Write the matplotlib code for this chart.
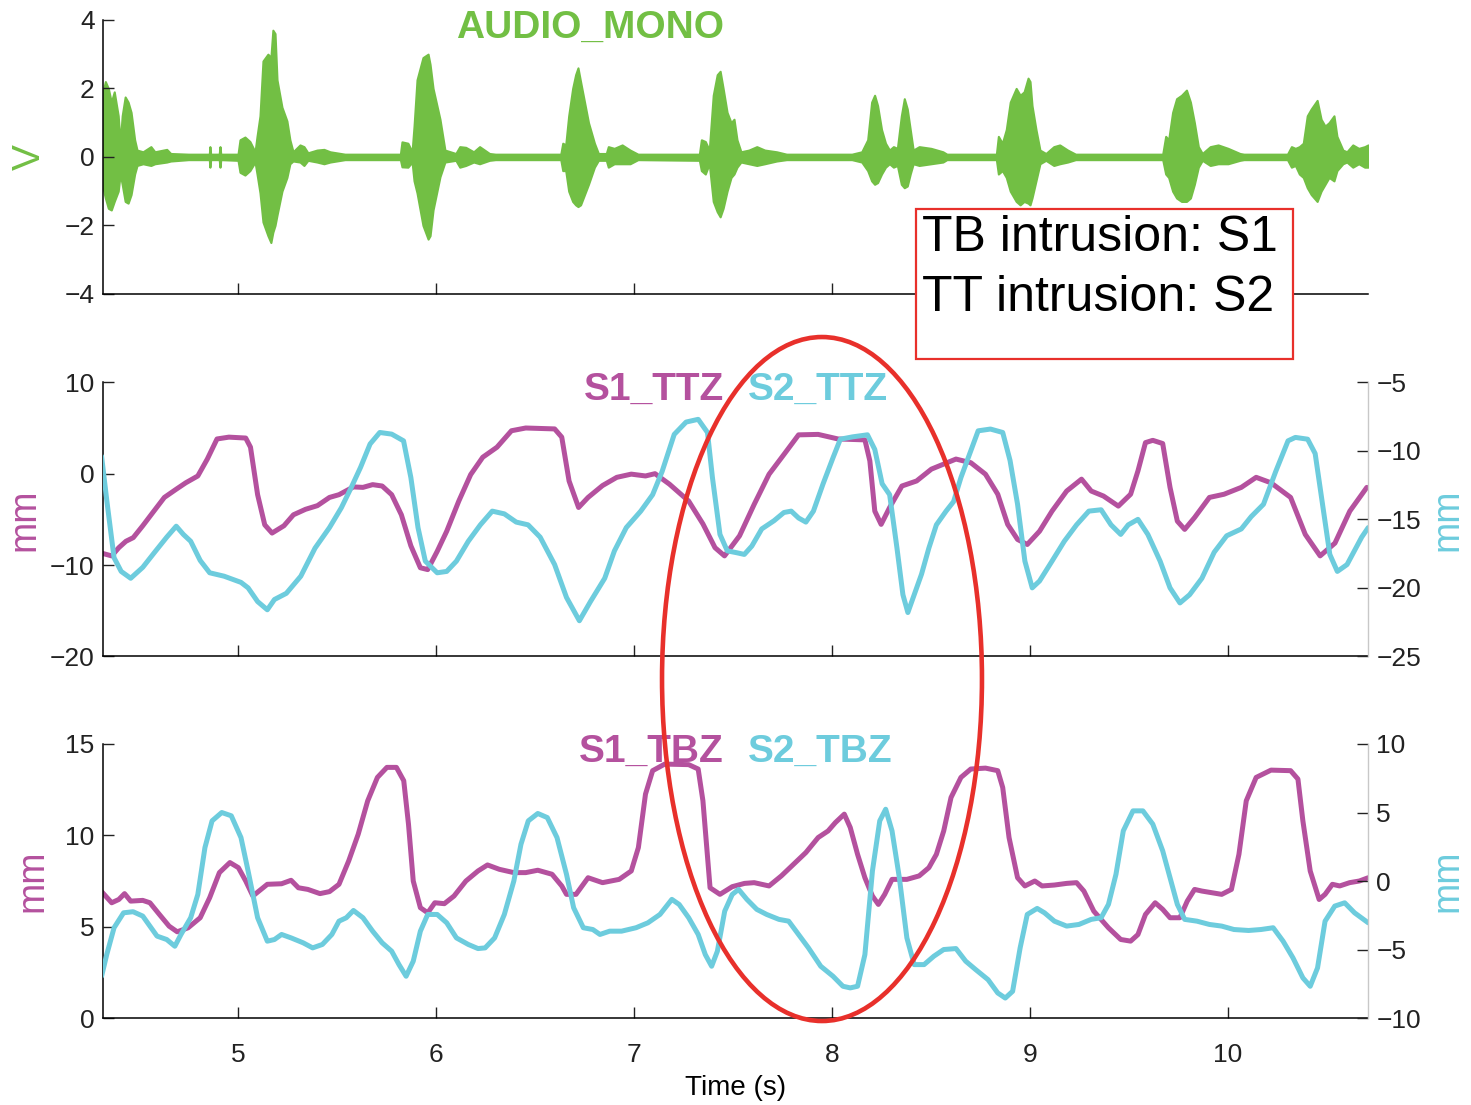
import matplotlib
matplotlib.use("Agg")
import matplotlib.pyplot as plt
from matplotlib.patches import Ellipse, Rectangle

plt.rcParams['font.family'] = ['Liberation Sans', 'DejaVu Sans']

GREEN = '#72BF44'
MAGENTA = '#B4519E'
CYAN = '#6DCCDD'
RED = '#E8302B'

# audio envelope (V)
audio_t = [4.318, 4.330, 4.345, 4.360, 4.375, 4.395, 4.405, 4.415, 4.430, 4.445, 4.460, 4.478, 4.490,
           4.52, 4.56, 4.58, 4.64, 4.66, 4.75, 4.855, 4.858, 4.862, 4.905, 4.909, 4.913,
           5.000, 5.010, 5.035, 5.060, 5.086, 5.096, 5.111, 5.126, 5.151, 5.166, 5.176, 5.187, 5.197,
           5.222, 5.247, 5.262, 5.278, 5.313, 5.333, 5.353, 5.399, 5.434, 5.465, 5.540,
           5.820, 5.828, 5.858, 5.879, 5.889, 5.904, 5.934, 5.960, 5.970, 5.985, 6.020, 6.045,
           6.10, 6.12, 6.15, 6.19, 6.22, 6.27, 6.30, 6.63, 6.64, 6.655,
           6.67, 6.69, 6.705, 6.717, 6.73, 6.75, 6.77, 6.80, 6.82, 6.86, 6.87, 6.90, 6.94, 6.98, 7.02,
           7.33, 7.34, 7.36, 7.38, 7.40, 7.42, 7.435, 7.45, 7.47, 7.49, 7.505, 7.52, 7.54, 7.58, 7.62,
           7.66, 7.72, 7.77, 8.10, 8.15, 8.18, 8.20, 8.215, 8.23, 8.25, 8.27, 8.29, 8.31, 8.33, 8.35,
           8.365, 8.38, 8.395, 8.41, 8.44, 8.50, 8.56, 8.58, 8.83, 8.84, 8.86, 8.88, 8.90, 8.93, 8.95,
           8.97, 8.99, 9.00, 9.01, 9.03, 9.05, 9.08, 9.12, 9.15, 9.19, 9.23, 9.67, 9.685, 9.70, 9.72,
           9.74, 9.765, 9.79, 9.81, 9.83, 9.85, 9.87, 9.91, 9.95, 10.00, 10.06, 10.08, 10.30, 10.32,
           10.34, 10.36, 10.38, 10.40, 10.42, 10.45, 10.47, 10.49, 10.51, 10.535, 10.55, 10.58, 10.60,
           10.63, 10.66, 10.69, 10.707]
audio_hi = [1.9, 2.2, 2.0, 1.6, 1.9, 1.2, 0.4, 1.2, 1.75, 1.6, 1.3, 0.5, 0.2,
            0.15, 0.3, 0.15, 0.22, 0.1, 0.08, 0.08, 0.3, 0.08, 0.08, 0.3, 0.08,
            0.08, 0.5, 0.58, 0.45, 0.15, 0.6, 1.2, 2.8, 3.0, 2.9, 3.7, 3.6, 2.25,
            1.45, 1.05, 0.5, 0.15, 0.35, 0.3, 0.12, 0.2, 0.22, 0.15, 0.08,
            0.08, 0.44, 0.4, 0.15, 0.9, 2.25, 2.9, 3.0, 2.7, 2.0, 1.1, 0.2,
            0.1, 0.3, 0.28, 0.15, 0.3, 0.1, 0.08, 0.08, 0.4, 0.35,
            1.2, 2.0, 2.4, 2.6, 2.2, 1.6, 1.0, 0.4, 0.1, 0.1, 0.3, 0.25, 0.35, 0.2, 0.08,
            0.08, 0.5, 0.45, 0.2, 1.8, 2.4, 2.5, 2.0, 1.3, 1.0, 1.1, 0.5, 0.15, 0.2, 0.3,
            0.2, 0.15, 0.08, 0.08, 0.15, 0.5, 1.6, 1.8, 1.5, 0.8, 0.4, 0.2, 0.3, 0.25, 1.2,
            1.7, 1.4, 0.8, 0.2, 0.3, 0.25, 0.15, 0.08, 0.08, 0.6, 0.4, 0.8, 1.6, 2.0, 1.8,
            1.9, 2.3, 2.2, 1.5, 0.8, 0.2, 0.1, 0.3, 0.35, 0.2, 0.08, 0.08, 0.6, 0.5, 1.3,
            1.7, 1.8, 1.95, 1.6, 1.0, 0.3, 0.1, 0.3, 0.35, 0.25, 0.1, 0.08, 0.08, 0.3,
            0.25, 0.3, 0.4, 1.2, 1.4, 1.65, 1.1, 0.9, 1.0, 1.2, 0.6, 0.2, 0.15,
            0.35, 0.25, 0.3, 0.35]
audio_lo = [-0.9, -1.2, -1.5, -1.55, -1.3, -1.0, -0.5, -0.8, -1.3, -1.35, -1.1, -0.5, -0.25,
            -0.2, -0.25, -0.2, -0.15, -0.12, -0.08, -0.08, -0.3, -0.08, -0.08, -0.3, -0.08,
            -0.1, -0.45, -0.53, -0.4, -0.15, -0.5, -1.05, -1.9, -2.3, -2.5, -2.2, -2.0, -1.7,
            -1.0, -0.6, -0.2, -0.12, -0.15, -0.25, -0.1, -0.15, -0.2, -0.15, -0.08,
            -0.08, -0.29, -0.3, -0.15, -0.7, -1.05, -2.0, -2.4, -2.3, -1.55, -0.58, -0.15,
            -0.1, -0.3, -0.25, -0.15, -0.2, -0.1, -0.08, -0.08, -0.4, -0.4,
            -1.0, -1.3, -1.4, -1.45, -1.4, -1.1, -0.8, -0.3, -0.1, -0.1, -0.3, -0.2, -0.2, -0.2, -0.08,
            -0.1, -0.4, -0.5, -0.2, -1.3, -1.6, -1.75, -1.5, -1.0, -0.6, -0.5, -0.3, -0.15, -0.2, -0.25,
            -0.2, -0.12, -0.08, -0.08, -0.15, -0.4, -0.7, -0.8, -0.75, -0.5, -0.3, -0.2, -0.3, -0.25, -0.8,
            -0.9, -0.85, -0.5, -0.2, -0.25, -0.2, -0.15, -0.08, -0.08, -0.5, -0.4, -0.6, -1.0, -1.3, -1.4,
            -1.3, -1.35, -1.4, -1.2, -0.7, -0.2, -0.1, -0.25, -0.2, -0.15, -0.08, -0.08, -0.5, -0.6, -1.0,
            -1.2, -1.3, -1.3, -1.2, -0.8, -0.3, -0.1, -0.25, -0.2, -0.2, -0.1, -0.08, -0.08, -0.3,
            -0.25, -0.5, -0.6, -0.9, -1.1, -1.3, -1.0, -0.8, -0.6, -0.7, -0.4, -0.2, -0.15,
            -0.3, -0.2, -0.3, -0.3]

# tongue tip vertical position (mm)
s1_ttz_t = [4.311, 4.362, 4.398, 4.434, 4.471, 4.519, 4.568, 4.628, 4.688, 4.736, 4.797, 4.845, 4.894,
            4.954, 5.039, 5.063, 5.099, 5.135, 5.172, 5.232, 5.280, 5.341, 5.401, 5.462, 5.510, 5.583,
            5.631, 5.680, 5.728, 5.776, 5.825, 5.873, 5.921, 5.958, 6.006, 6.054, 6.115, 6.175, 6.236,
            6.308, 6.381, 6.453, 6.599, 6.635, 6.672, 6.720, 6.768, 6.841, 6.913, 6.986, 7.058, 7.106,
            7.179, 7.276, 7.348, 7.409, 7.457, 7.533, 7.607, 7.682, 7.757, 7.831, 7.930, 8.030, 8.166,
            8.191, 8.216, 8.248, 8.291, 8.353, 8.427, 8.502, 8.564, 8.626, 8.701, 8.775, 8.837, 8.887,
            8.937, 8.986, 9.048, 9.111, 9.185, 9.260, 9.309, 9.371, 9.446, 9.508, 9.545, 9.583, 9.620,
            9.670, 9.707, 9.744, 9.781, 9.831, 9.906, 9.980, 10.067, 10.142, 10.217, 10.316, 10.390,
            10.465, 10.540, 10.615, 10.701]
s1_ttz = [-8.7, -9.0, -8.1, -7.4, -7.0, -5.7, -4.3, -2.6, -1.7, -1.0, -0.25, 1.6, 3.8,
          4.0, 3.9, 2.9, -2.3, -5.6, -6.5, -5.7, -4.5, -3.9, -3.5, -2.6, -2.3, -1.45,
          -1.5, -1.2, -1.35, -2.3, -4.5, -7.9, -10.3, -10.5, -8.5, -6.3, -3.0, -0.1, 1.8,
          2.9, 4.7, 5.0, 4.9, 4.0, -0.8, -3.7, -2.6, -1.3, -0.4, -0.05, -0.25, 0.0,
          -1.15, -3.0, -5.5, -8.1, -9.0, -6.8, -3.35, -0.06, 2.1, 4.25, 4.3, 3.8, 3.7,
          1.4, -4.1, -5.55, -3.7, -1.35, -0.8, 0.5, 1.05, 1.6, 1.2, -0.06, -2.25, -5.55,
          -7.2, -7.75, -6.3, -4.1, -1.9, -0.6, -1.9, -2.45, -3.55, -2.25, 0.3, 3.4, 3.65,
          3.3, -1.5, -5.2, -6.1, -4.8, -2.6, -2.25, -1.5, -0.4, -1.0, -2.6, -6.65,
          -9.0, -7.6, -4.1, -1.5]
s2_ttz_t = [4.311, 4.338, 4.374, 4.410, 4.458, 4.519, 4.579, 4.640, 4.688, 4.724, 4.761, 4.809, 4.857,
            4.930, 4.978, 5.015, 5.051, 5.099, 5.148, 5.184, 5.244, 5.317, 5.389, 5.462, 5.522, 5.571,
            5.619, 5.667, 5.716, 5.776, 5.836, 5.873, 5.909, 5.946, 6.006, 6.054, 6.103, 6.163, 6.224,
            6.284, 6.345, 6.405, 6.465, 6.526, 6.599, 6.659, 6.724, 6.780, 6.852, 6.901, 6.961, 7.034,
            7.094, 7.142, 7.203, 7.263, 7.324, 7.371, 7.396, 7.434, 7.471, 7.520, 7.557, 7.595, 7.645,
            7.707, 7.757, 7.794, 7.831, 7.868, 7.906, 7.955, 8.005, 8.042, 8.104, 8.179, 8.216, 8.253,
            8.291, 8.328, 8.358, 8.383, 8.415, 8.452, 8.489, 8.527, 8.576, 8.614, 8.651, 8.701, 8.738,
            8.800, 8.862, 8.899, 8.937, 8.974, 9.011, 9.048, 9.111, 9.173, 9.235, 9.297, 9.359, 9.409,
            9.458, 9.496, 9.545, 9.595, 9.657, 9.707, 9.757, 9.806, 9.868, 9.930, 9.993, 10.067,
            10.117, 10.179, 10.241, 10.303, 10.340, 10.402, 10.440, 10.477, 10.514, 10.552, 10.601,
            10.638, 10.675, 10.708]
s2_ttz = [-10.4, -13.7, -17.8, -18.8, -19.3, -18.5, -17.4, -16.3, -15.5, -16.1, -16.6, -18.0, -18.9,
          -19.15, -19.4, -19.6, -20.0, -21.0, -21.6, -20.85, -20.4, -19.15, -17.1, -15.6, -14.15, -12.7,
          -11.2, -9.5, -8.66, -8.78, -9.27, -11.95, -15.6, -18.05, -18.9, -18.8, -18.05, -16.6, -15.4,
          -14.4, -14.6, -15.2, -15.4, -16.3, -18.3, -20.7, -22.4, -21.0, -19.3, -17.3, -15.6, -14.4,
          -13.2, -11.5, -8.8, -7.9, -7.7, -8.66, -11.95, -16.1, -17.3, -17.44, -17.56, -16.95, -15.7,
          -15.1, -14.5, -14.4, -14.9, -15.2, -14.4, -12.4, -10.5, -9.15, -8.98, -8.83, -9.9, -12.4,
          -13.2, -17.1, -20.5, -21.8, -20.5, -19.0, -17.1, -15.4, -14.4, -13.7, -11.95, -10.0, -8.54,
          -8.41, -8.66, -10.7, -13.9, -18.05, -20.0, -19.5, -18.05, -16.6, -15.4, -14.4, -14.3, -15.4,
          -16.1, -15.4, -15.0, -16.1, -18.05, -20.0, -21.1, -20.5, -19.3, -17.4, -16.2, -15.7,
          -14.8, -13.9, -11.5, -9.27, -9.02, -9.15, -10.2, -13.9, -17.56, -18.8, -18.3,
          -17.3, -16.3, -15.6]

# tongue body vertical position (mm)
s1_tbz_t = [4.311, 4.362, 4.398, 4.427, 4.458, 4.519, 4.555, 4.603, 4.652, 4.693, 4.748, 4.809, 4.857,
            4.906, 4.959, 5.002, 5.039, 5.075, 5.148, 5.220, 5.268, 5.305, 5.353, 5.414, 5.462, 5.510,
            5.559, 5.607, 5.655, 5.704, 5.752, 5.800, 5.837, 5.861, 5.885, 5.921, 5.958, 5.994, 6.042,
            6.091, 6.151, 6.212, 6.260, 6.320, 6.393, 6.453, 6.514, 6.586, 6.635, 6.659, 6.707, 6.768,
            6.841, 6.925, 6.986, 7.022, 7.058, 7.094, 7.155, 7.276, 7.324, 7.348, 7.384, 7.434, 7.496,
            7.558, 7.607, 7.682, 7.744, 7.806, 7.868, 7.930, 7.980, 8.017, 8.062, 8.092, 8.129, 8.166,
            8.204, 8.234, 8.266, 8.303, 8.378, 8.440, 8.489, 8.527, 8.564, 8.601, 8.651, 8.701, 8.775,
            8.837, 8.862, 8.894, 8.937, 8.974, 9.024, 9.061, 9.123, 9.185, 9.235, 9.272, 9.322, 9.396,
            9.458, 9.508, 9.545, 9.583, 9.632, 9.670, 9.707, 9.757, 9.794, 9.831, 9.868, 9.918, 9.968,
            10.017, 10.055, 10.092, 10.142, 10.217, 10.316, 10.353, 10.378, 10.415, 10.460, 10.490,
            10.527, 10.564, 10.614, 10.663, 10.708]
s1_tbz = [6.92, 6.31, 6.49, 6.81, 6.40, 6.44, 6.31, 5.67, 5.03, 4.72, 4.94, 5.49, 6.59,
          7.96, 8.51, 8.23, 7.50, 6.68, 7.32, 7.35, 7.54, 7.13, 7.04, 6.81, 6.92, 7.32,
          8.60, 10.06, 11.89, 13.17, 13.72, 13.72, 12.99, 10.61, 7.50, 6.04, 5.76, 6.31, 6.26,
          6.68, 7.50, 8.05, 8.38, 8.14, 7.96, 7.96, 8.09, 7.87, 7.23, 6.77, 6.77, 7.68,
          7.41, 7.59, 8.05, 9.33, 12.26, 13.54, 13.9, 13.87, 13.63, 11.89, 7.13, 6.77, 7.19,
          7.37, 7.41, 7.23, 7.78, 8.42, 9.06, 9.88, 10.24, 10.70, 11.16, 10.43, 8.96, 7.68,
          6.68, 6.22, 6.77, 7.59, 7.59, 7.78, 8.23, 8.96, 10.24, 12.07, 13.17, 13.63, 13.68,
          13.54, 12.62, 9.88, 7.68, 7.23, 7.50, 7.23, 7.28, 7.37, 7.41, 6.95, 5.85, 4.94,
          4.30, 4.21, 4.57, 5.67, 6.31, 5.95, 5.49, 5.49, 6.40, 7.04, 6.95, 6.86, 6.77,
          7.04, 8.96, 11.89, 13.17, 13.57, 13.54, 13.08, 10.79, 8.05, 6.49, 6.77,
          7.32, 7.23, 7.41, 7.50, 7.68]
s2_tbz_t = [4.311, 4.337, 4.374, 4.422, 4.470, 4.519, 4.555, 4.591, 4.640, 4.681, 4.712, 4.761, 4.797,
            4.833, 4.869, 4.918, 4.966, 5.015, 5.051, 5.099, 5.148, 5.184, 5.220, 5.268, 5.329, 5.377,
            5.426, 5.474, 5.510, 5.547, 5.583, 5.631, 5.680, 5.728, 5.776, 5.813, 5.849, 5.885, 5.921,
            5.958, 6.006, 6.054, 6.103, 6.163, 6.212, 6.248, 6.296, 6.345, 6.393, 6.429, 6.466, 6.514,
            6.562, 6.611, 6.659, 6.695, 6.744, 6.792, 6.828, 6.877, 6.937, 7.010, 7.070, 7.131, 7.191,
            7.228, 7.276, 7.324, 7.360, 7.392, 7.421, 7.458, 7.496, 7.528, 7.570, 7.620, 7.670, 7.732,
            7.781, 7.831, 7.881, 7.943, 8.005, 8.055, 8.092, 8.129, 8.166, 8.204, 8.241, 8.271, 8.303,
            8.340, 8.378, 8.415, 8.465, 8.514, 8.564, 8.626, 8.675, 8.725, 8.788, 8.837, 8.875, 8.912,
            8.950, 8.986, 9.036, 9.073, 9.123, 9.185, 9.247, 9.309, 9.359, 9.396, 9.434, 9.471, 9.520,
            9.570, 9.620, 9.670, 9.707, 9.744, 9.781, 9.843, 9.906, 9.968, 10.030, 10.104, 10.166,
            10.228, 10.278, 10.328, 10.378, 10.415, 10.452, 10.490, 10.539, 10.589, 10.639, 10.708]
s2_tbz = [-6.95, -5.37, -3.41, -2.32, -2.24, -2.56, -3.29, -4.02, -4.27, -4.76, -3.90, -2.68, -0.98,
          2.44, 4.39, 5.0, 4.76, 3.17, 0.73, -2.68, -4.39, -4.27, -3.90, -4.15, -4.51, -4.88,
          -4.63, -3.90, -2.93, -2.68, -2.15, -2.68, -3.66, -4.51, -5.12, -6.10, -6.95, -5.85, -3.66,
          -2.44, -2.44, -3.05, -4.15, -4.63, -4.93, -4.88, -4.15, -2.44, 0.0, 2.68, 4.39, 4.93,
          4.63, 3.17, 0.49, -1.95, -3.41, -3.54, -3.90, -3.66, -3.66, -3.41, -3.05, -2.44, -1.34,
          -1.71, -2.68, -3.90, -5.37, -6.22, -5.12, -2.20, -0.98, -0.61, -1.34, -2.07, -2.44, -2.80,
          -2.93, -3.90, -4.88, -6.22, -6.95, -7.68, -7.80, -7.68, -5.37, 0.73, 4.39, 5.24, 3.66,
          0.24, -4.15, -6.10, -6.10, -5.49, -5.0, -4.93, -5.85, -6.46, -7.20, -8.17, -8.54, -8.05,
          -4.88, -2.44, -2.0, -2.32, -2.93, -3.29, -3.17, -2.80, -2.68, -1.71, 0.49, 3.66, 5.12,
          5.12, 4.15, 2.20, 0.24, -1.71, -2.80, -2.93, -3.17, -3.29, -3.54, -3.61, -3.54,
          -3.41, -4.39, -5.61, -7.07, -7.68, -6.34, -2.93, -1.83, -1.59, -2.32, -3.05]

x_ticks = [5, 6, 7, 8, 9, 10]
x_range = (4.318, 10.707)

fig = plt.figure(figsize=(14.71, 11.05), dpi=100)
ax_top = fig.add_axes([0.070, 0.734, 0.860, 0.248])
ax_mid = fig.add_axes([0.070, 0.406, 0.860, 0.248])
ax_bot = fig.add_axes([0.070, 0.0787, 0.860, 0.248])
tw_mid = ax_mid.twinx()
tw_bot = ax_bot.twinx()


def style_left(ax):
    ax.spines['top'].set_visible(False)
    ax.spines['right'].set_visible(False)
    ax.spines['left'].set_linewidth(1.1)
    ax.spines['bottom'].set_linewidth(1.1)
    ax.tick_params(direction='in', length=8, width=1, labelsize=19, pad=6, colors='#222222')
    ax.set_xlim(*x_range)
    ax.set_xticks(x_ticks)


def style_right(ax):
    for s in ['top', 'left', 'bottom']:
        ax.spines[s].set_visible(False)
    ax.spines['right'].set_color('#c8c8c8')
    ax.spines['right'].set_linewidth(1)
    ax.tick_params(direction='in', length=8, width=1, labelsize=19, pad=6, colors='#222222')


for a in (ax_top, ax_mid, ax_bot):
    style_left(a)
for a in (tw_mid, tw_bot):
    style_right(a)

line_kw = dict(lw=3.6, solid_joinstyle='round', solid_capstyle='round')

# audio
ax_top.fill_between(audio_t, audio_lo, audio_hi, color=GREEN, lw=1.5, edgecolor=GREEN)
ax_top.set_ylim(-4, 4)
ax_top.set_yticks([-4, -2, 0, 2, 4])
ax_top.tick_params(labelbottom=False)
ax_top.set_ylabel('V', color=GREEN, fontsize=28)
ax_top.yaxis.set_label_coords(-0.0433, 0.5)
ax_top.text(0.385, 0.971, 'AUDIO_MONO', transform=ax_top.transAxes, color=GREEN,
            fontsize=28, fontweight='bold', ha='center', va='center')

# tongue tip
ax_mid.plot(s1_ttz_t, s1_ttz, color=MAGENTA, **line_kw)
tw_mid.plot(s2_ttz_t, s2_ttz, color=CYAN, **line_kw)
ax_mid.set_ylim(-20, 10)
ax_mid.set_yticks([-20, -10, 0, 10])
tw_mid.set_ylim(-25, -5)
tw_mid.set_yticks([-25, -20, -15, -10, -5])
ax_mid.tick_params(labelbottom=False)
ax_mid.set_ylabel('mm', color=MAGENTA, fontsize=27)
ax_mid.yaxis.set_label_coords(-0.0482, 0.5)
tw_mid.set_ylabel('mm', color=CYAN, fontsize=27)
tw_mid.yaxis.set_label_coords(1.0482, 0.5)
ax_mid.text(0.491, 0.971, 'S1_TTZ', transform=ax_mid.transAxes, color=MAGENTA,
            fontsize=28, fontweight='bold', ha='right', va='center')
ax_mid.text(0.510, 0.971, 'S2_TTZ', transform=ax_mid.transAxes, color=CYAN,
            fontsize=28, fontweight='bold', ha='left', va='center')

# tongue body
ax_bot.plot(s1_tbz_t, s1_tbz, color=MAGENTA, **line_kw)
tw_bot.plot(s2_tbz_t, s2_tbz, color=CYAN, **line_kw)
ax_bot.set_ylim(0, 15)
ax_bot.set_yticks([0, 5, 10, 15])
tw_bot.set_ylim(-10, 10)
tw_bot.set_yticks([-10, -5, 0, 5, 10])
ax_bot.tick_params(axis='x', pad=18)
ax_bot.set_xlabel('Time (s)', fontsize=20, labelpad=6)
ax_bot.set_ylabel('mm', color=MAGENTA, fontsize=27)
ax_bot.yaxis.set_label_coords(-0.0411, 0.5)
tw_bot.set_ylabel('mm', color=CYAN, fontsize=27)
tw_bot.yaxis.set_label_coords(1.0482, 0.5)
ax_bot.text(0.491, 0.971, 'S1_TBZ', transform=ax_bot.transAxes, color=MAGENTA,
            fontsize=28, fontweight='bold', ha='right', va='center')
ax_bot.text(0.510, 0.971, 'S2_TBZ', transform=ax_bot.transAxes, color=CYAN,
            fontsize=28, fontweight='bold', ha='left', va='center')

# annotation box and ellipse
fig.add_artist(Rectangle((0.6227, 0.6751), 0.2563, 0.1358, transform=fig.transFigure,
                         facecolor='white', edgecolor=RED, lw=1.6, zorder=10))
fig.text(0.6265, 0.7846, 'TB intrusion: S1', fontsize=36, ha='left', va='center', zorder=11)
fig.text(0.6265, 0.7303, 'TT intrusion: S2', fontsize=36, ha='left', va='center', zorder=11)
fig.add_artist(Ellipse((0.5588, 0.3855), 0.2175, 0.619, transform=fig.transFigure,
                       fill=False, edgecolor=RED, lw=3.3, zorder=12))

fig.savefig('out.png', dpi=100)
